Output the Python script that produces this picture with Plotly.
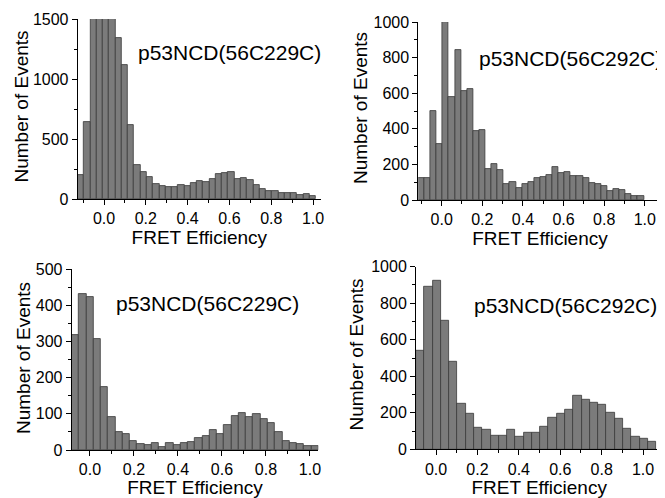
import numpy as np
import plotly.graph_objects as go

# FRET efficiency histograms, counts read per bin (left to right)
labels = ["p53NCD(56C229C)", "p53NCD(56C292C)", "p53NCD(56C229C)", "p53NCD(56C292C)"]

# top left: bins 0.03 wide, first bin starts at -0.126 (peak bars are clipped at 1500)
counts_a = [200, 640, 1750, 2150, 2050, 1650, 1343, 1117, 614, 285, 222, 185, 125, 106, 98, 103,
            120, 111, 136, 150, 140, 166, 208, 214, 222, 163, 171, 162, 115, 80, 64, 65,
            50, 48, 47, 32, 39, 21]
# top right: bins 0.03 wide from -0.115
counts_b = [123, 123, 500, 315, 1000, 580, 845, 614, 625, 386, 392, 172, 203, 168, 90, 103,
            65, 91, 99, 123, 129, 143, 185, 153, 158, 135, 133, 122, 96, 89, 77, 53,
            62, 54, 33, 25, 23]
# bottom left: bins 0.033 wide from -0.083
counts_c = [318, 431, 422, 308, 173, 90, 49, 44, 26, 17, 14, 18, 9, 18, 14, 20,
            22, 33, 38, 54, 44, 68, 94, 103, 90, 99, 87, 75, 51, 26, 20, 17, 11, 11]
# bottom right: bins 0.04 wide from -0.097
counts_d = [540, 890, 925, 703, 482, 252, 195, 120, 109, 75, 73, 109, 71, 93, 89, 124,
            175, 197, 219, 291, 273, 257, 246, 202, 169, 115, 67, 58, 40]

bin_start = [-0.126, -0.115, -0.083, -0.097]
bin_width = [0.03, 0.03, 0.033, 0.04]
x_ranges = [[-0.126, 1.038], [-0.115, 1.083], [-0.083, 1.038], [-0.097, 1.093]]
y_ranges = [[0, 1500], [0, 1000], [0, 500], [0, 1000]]
y_dticks = [500, 200, 100, 200]

# page has an 8px body margin, so the figure is sized to fill the rest of the window
OFF = 8
W, H = 665 - OFF, 498 - OFF

# plot boxes in window pixels: left, right, top, bottom
boxes = [(77.7, 321, 19, 199), (418.3, 661.7, 22, 200), (71.7, 318.3, 269, 450), (416, 662.3, 266.7, 449.3)]
label_pos = [(229, 53), (570, 58), (207, 303), (565, 305)]
ytitle_pos = [(21.5, 107), (360, 108), (23, 358), (355.5, 355)]


def px(x):
    return (x - OFF) / W


def py(y):
    return 1 - (y - OFF) / H


fig = go.Figure()
all_counts = [counts_a, counts_b, counts_c, counts_d]

for i, counts in enumerate(all_counts):
    n = len(counts)
    centers = bin_start[i] + bin_width[i] * (np.arange(n) + 0.5)
    sfx = "" if i == 0 else str(i + 1)
    l, r, t, b = boxes[i]
    fig.add_trace(go.Bar(
        x=centers, y=counts, width=bin_width[i],
        marker=dict(color="#7b7b7b", line=dict(color="#3a3a3a", width=0.8)),
        xaxis="x" + sfx, yaxis="y" + sfx, showlegend=False,
    ))
    common = dict(showline=True, linecolor="black", linewidth=1, ticks="outside",
                  ticklen=5, tickcolor="black", showgrid=False, zeroline=False,
                  automargin=False, tickfont=dict(size=16, color="black"))
    fig.layout["xaxis" + sfx] = dict(
        domain=[px(l), px(r)], range=x_ranges[i], anchor="y" + sfx,
        tick0=0, dtick=0.2, tickformat=".1f",
        minor=dict(dtick=0.1, tick0=0, ticks="outside", ticklen=3, tickcolor="black"),
        title=dict(text="FRET Efficiency", font=dict(size=19, color="black"), standoff=4),
        **common)
    fig.layout["yaxis" + sfx] = dict(
        domain=[py(b), py(t)], range=y_ranges[i], anchor="x" + sfx,
        tick0=0, dtick=y_dticks[i],
        minor=dict(dtick=y_dticks[i] / 2, ticks="outside", ticklen=3, tickcolor="black"),
        **common)
    fig.add_annotation(x=px(ytitle_pos[i][0]), y=py(ytitle_pos[i][1]),
                       xref="paper", yref="paper", text="Number of Events", textangle=-90,
                       showarrow=False, font=dict(size=19, color="black"),
                       xanchor="center", yanchor="middle")
    fig.add_annotation(x=px(label_pos[i][0]), y=py(label_pos[i][1]),
                       xref="paper", yref="paper", text=labels[i], showarrow=False,
                       font=dict(size=21, color="black"), xanchor="center", yanchor="middle")

fig.update_layout(
    width=W, height=H,
    margin=dict(l=0, r=0, t=0, b=0),
    plot_bgcolor="white", paper_bgcolor="white",
    font=dict(family="Liberation Sans, Arial, sans-serif", color="black"),
    bargap=0,
)

fig.write_html("out.html")
